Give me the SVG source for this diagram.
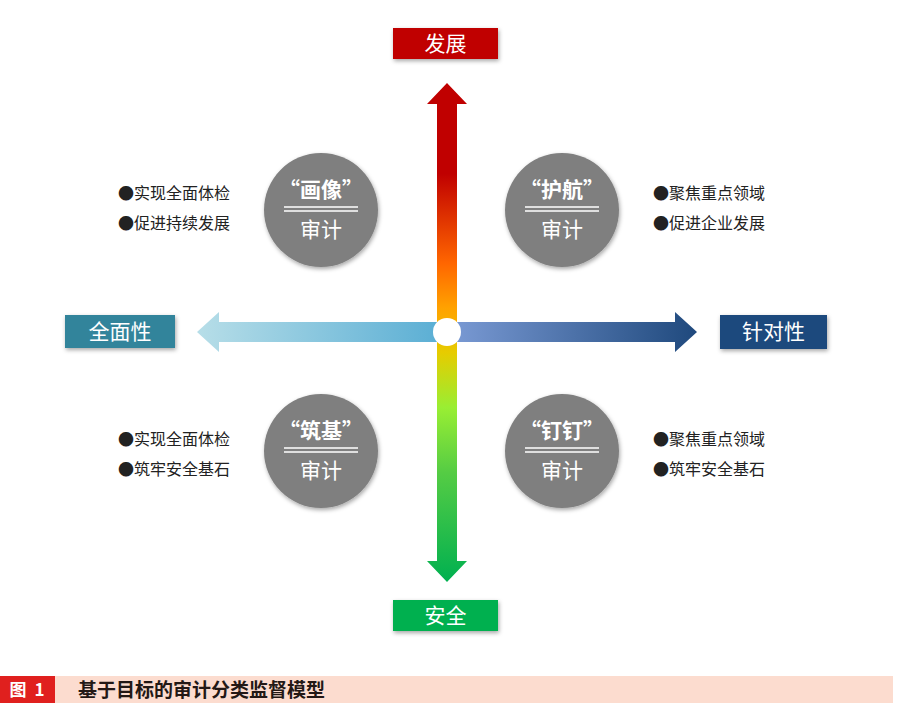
<svg xmlns="http://www.w3.org/2000/svg" width="900" height="709" viewBox="0 0 900 709">
<defs>
<style>
.lbl{font-family:"Noto Sans CJK SC","Noto Sans",sans-serif;font-size:21px;fill:#fff;text-anchor:middle}
.ttl{font-family:"Noto Sans CJK SC","Noto Sans",sans-serif;font-size:21px;font-weight:bold;fill:#fff;text-anchor:middle}
.sub{font-family:"Noto Sans CJK SC","Noto Sans",sans-serif;font-size:21px;fill:#fff;text-anchor:middle}
.bul{font-family:"Noto Sans CJK SC","Noto Sans",sans-serif;font-size:16px;fill:#222}
.circ{fill:#7f7f7f;filter:url(#sh)}
.box{filter:url(#sh)}
.dl{stroke:#fff;stroke-width:1.5}
</style>
<filter id="sh" x="-20%" y="-20%" width="140%" height="150%">
<feDropShadow dx="1" dy="2" stdDeviation="2" flood-color="#000" flood-opacity="0.35"/>
</filter>
<linearGradient id="gv" gradientUnits="userSpaceOnUse" x1="0" y1="84" x2="0" y2="582">
<stop offset="0" stop-color="#c00000"/>
<stop offset="0.18" stop-color="#c00000"/>
<stop offset="0.36" stop-color="#ff6600"/>
<stop offset="0.45" stop-color="#ffa200"/>
<stop offset="0.54" stop-color="#e6cc00"/>
<stop offset="0.65" stop-color="#99ee33"/>
<stop offset="0.78" stop-color="#55cc44"/>
<stop offset="1" stop-color="#00b050"/>
</linearGradient>
<linearGradient id="gh" gradientUnits="userSpaceOnUse" x1="197" y1="0" x2="697" y2="0">
<stop offset="0" stop-color="#b7dee8"/>
<stop offset="0.49" stop-color="#5aaed4"/>
<stop offset="0.51" stop-color="#7a9ad4"/>
<stop offset="1" stop-color="#1f497d"/>
</linearGradient>
</defs>
<rect width="900" height="709" fill="#fff"/>

<g id="connectors">
<polygon fill="url(#gh)" points="197,332 219,312 219,322 675,322 675,312 697,332 675,352 675,342 219,342 219,352"/>
<polygon fill="url(#gv)" points="447,83 467,104 457,104 457,561 467,561 447,582 427,561 437,561 437,104 427,104"/>
<circle cx="447" cy="332" r="14" fill="#fff"/>
</g>

<g id="top-label">
<rect class="box" x="393" y="28" width="105" height="31" fill="#c00000"/>
<text class="lbl" x="445.5" y="51">发展</text>
</g>
<g id="bottom-label">
<rect class="box" x="393" y="600" width="105" height="31" fill="#00b050"/>
<text class="lbl" x="445.5" y="623">安全</text>
</g>
<g id="left-label">
<rect class="box" x="65" y="315" width="110" height="33" fill="#31849b"/>
<text class="lbl" x="120" y="339">全面性</text>
</g>
<g id="right-label">
<rect class="box" x="720" y="315" width="107" height="34" fill="#1f497d"/>
<text class="lbl" x="773.5" y="339">针对性</text>
</g>

<g id="node-huaxiang">
<circle class="circ" cx="321" cy="210" r="57"/>
<text class="ttl" x="321" y="197">“画像”</text>
<line class="dl" x1="284" y1="207" x2="358" y2="207"/>
<line class="dl" x1="284" y1="211" x2="358" y2="211"/>
<text class="sub" x="321" y="237">审计</text>
</g>
<g id="node-huhang">
<circle class="circ" cx="562" cy="210" r="57"/>
<text class="ttl" x="562" y="197">“护航”</text>
<line class="dl" x1="525" y1="207" x2="599" y2="207"/>
<line class="dl" x1="525" y1="211" x2="599" y2="211"/>
<text class="sub" x="562" y="237">审计</text>
</g>
<g id="node-zhuji">
<circle class="circ" cx="321" cy="451" r="57"/>
<text class="ttl" x="321" y="438">“筑基”</text>
<line class="dl" x1="284" y1="448" x2="358" y2="448"/>
<line class="dl" x1="284" y1="452" x2="358" y2="452"/>
<text class="sub" x="321" y="478">审计</text>
</g>
<g id="node-dingding">
<circle class="circ" cx="562" cy="451" r="57"/>
<text class="ttl" x="562" y="438">“钉钉”</text>
<line class="dl" x1="525" y1="448" x2="599" y2="448"/>
<line class="dl" x1="525" y1="452" x2="599" y2="452"/>
<text class="sub" x="562" y="478">审计</text>
</g>

<g id="bullets-tl">
<text class="bul" x="118" y="199">●实现全面体检</text>
<text class="bul" x="118" y="229">●促进持续发展</text>
</g>
<g id="bullets-tr">
<text class="bul" x="653" y="199">●聚焦重点领域</text>
<text class="bul" x="653" y="229">●促进企业发展</text>
</g>
<g id="bullets-bl">
<text class="bul" x="118" y="445">●实现全面体检</text>
<text class="bul" x="118" y="475">●筑牢安全基石</text>
</g>
<g id="bullets-br">
<text class="bul" x="653" y="445">●聚焦重点领域</text>
<text class="bul" x="653" y="475">●筑牢安全基石</text>
</g>

<g id="caption">
<rect x="0" y="676" width="893" height="27" fill="#fcdccf"/>
<rect x="0" y="676" width="55" height="27" fill="#e0201e"/>
<text x="28" y="696" font-family="Noto Sans CJK SC,sans-serif" font-size="17" font-weight="bold" fill="#fff" text-anchor="middle" letter-spacing="2">图 1</text>
<text x="78" y="697" font-family="Noto Sans CJK SC,sans-serif" font-size="19" font-weight="bold" fill="#231815">基于目标的审计分类监督模型</text>
</g>
</svg>
